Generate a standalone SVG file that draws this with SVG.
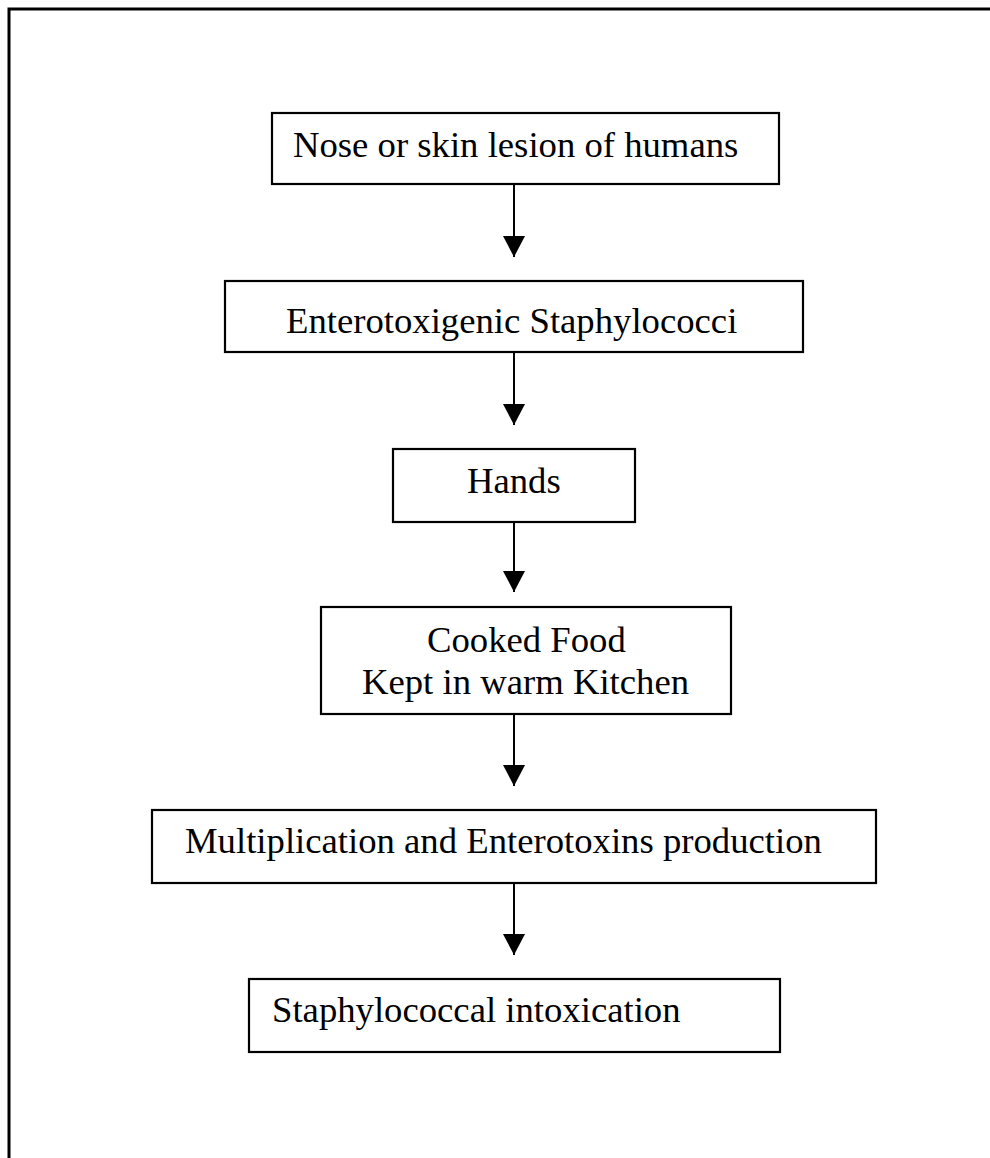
<svg xmlns="http://www.w3.org/2000/svg" width="990" height="1158" viewBox="0 0 990 1158">
  <style>
    .box { fill: #ffffff; stroke: #000000; stroke-width: 2.2; }
    .lbl { font-family: "Liberation Serif", "Times New Roman", serif; font-size: 36.7px; fill: #000000; }
    .conn { stroke: #000000; stroke-width: 2; fill: none; marker-end: url(#arrow); }
    .frame { stroke: #000000; stroke-width: 3; fill: none; }
  </style>
  <defs>
    <marker id="arrow" markerUnits="userSpaceOnUse" markerWidth="22" markerHeight="22" refX="21" refY="11" orient="auto">
      <path d="M0,0 L21,11 L0,22 Z" fill="#000000"/>
    </marker>
  </defs>
  <rect width="990" height="1158" fill="#ffffff"/>
  <g id="frame">
    <path class="frame" d="M9,1158 L9,9 L990,9"/>
  </g>
  <g id="connectors">
    <line class="conn" x1="514" y1="184" x2="514" y2="257"/>
    <line class="conn" x1="514" y1="352" x2="514" y2="425"/>
    <line class="conn" x1="514" y1="522" x2="514" y2="592"/>
    <line class="conn" x1="514" y1="714" x2="514" y2="786"/>
    <line class="conn" x1="514" y1="883" x2="514" y2="955"/>
  </g>
  <g id="node-nose">
    <rect class="box" x="272" y="113" width="507" height="71"/>
    <text class="lbl" x="293" y="157">Nose or skin lesion of humans</text>
  </g>
  <g id="node-entero">
    <rect class="box" x="225" y="281" width="578" height="71"/>
    <text class="lbl" x="286" y="333">Enterotoxigenic Staphylococci</text>
  </g>
  <g id="node-hands">
    <rect class="box" x="393" y="449" width="242" height="73"/>
    <text class="lbl" x="467" y="493">Hands</text>
  </g>
  <g id="node-cooked">
    <rect class="box" x="321" y="607" width="410" height="107"/>
    <text class="lbl" x="427" y="652">Cooked Food</text>
    <text class="lbl" x="362" y="694">Kept in warm Kitchen</text>
  </g>
  <g id="node-multiplication">
    <rect class="box" x="152" y="810" width="724" height="73"/>
    <text class="lbl" x="185" y="853">Multiplication and Enterotoxins production</text>
  </g>
  <g id="node-intoxication">
    <rect class="box" x="249" y="979" width="531" height="73"/>
    <text class="lbl" x="272" y="1022">Staphylococcal intoxication</text>
  </g>
</svg>
